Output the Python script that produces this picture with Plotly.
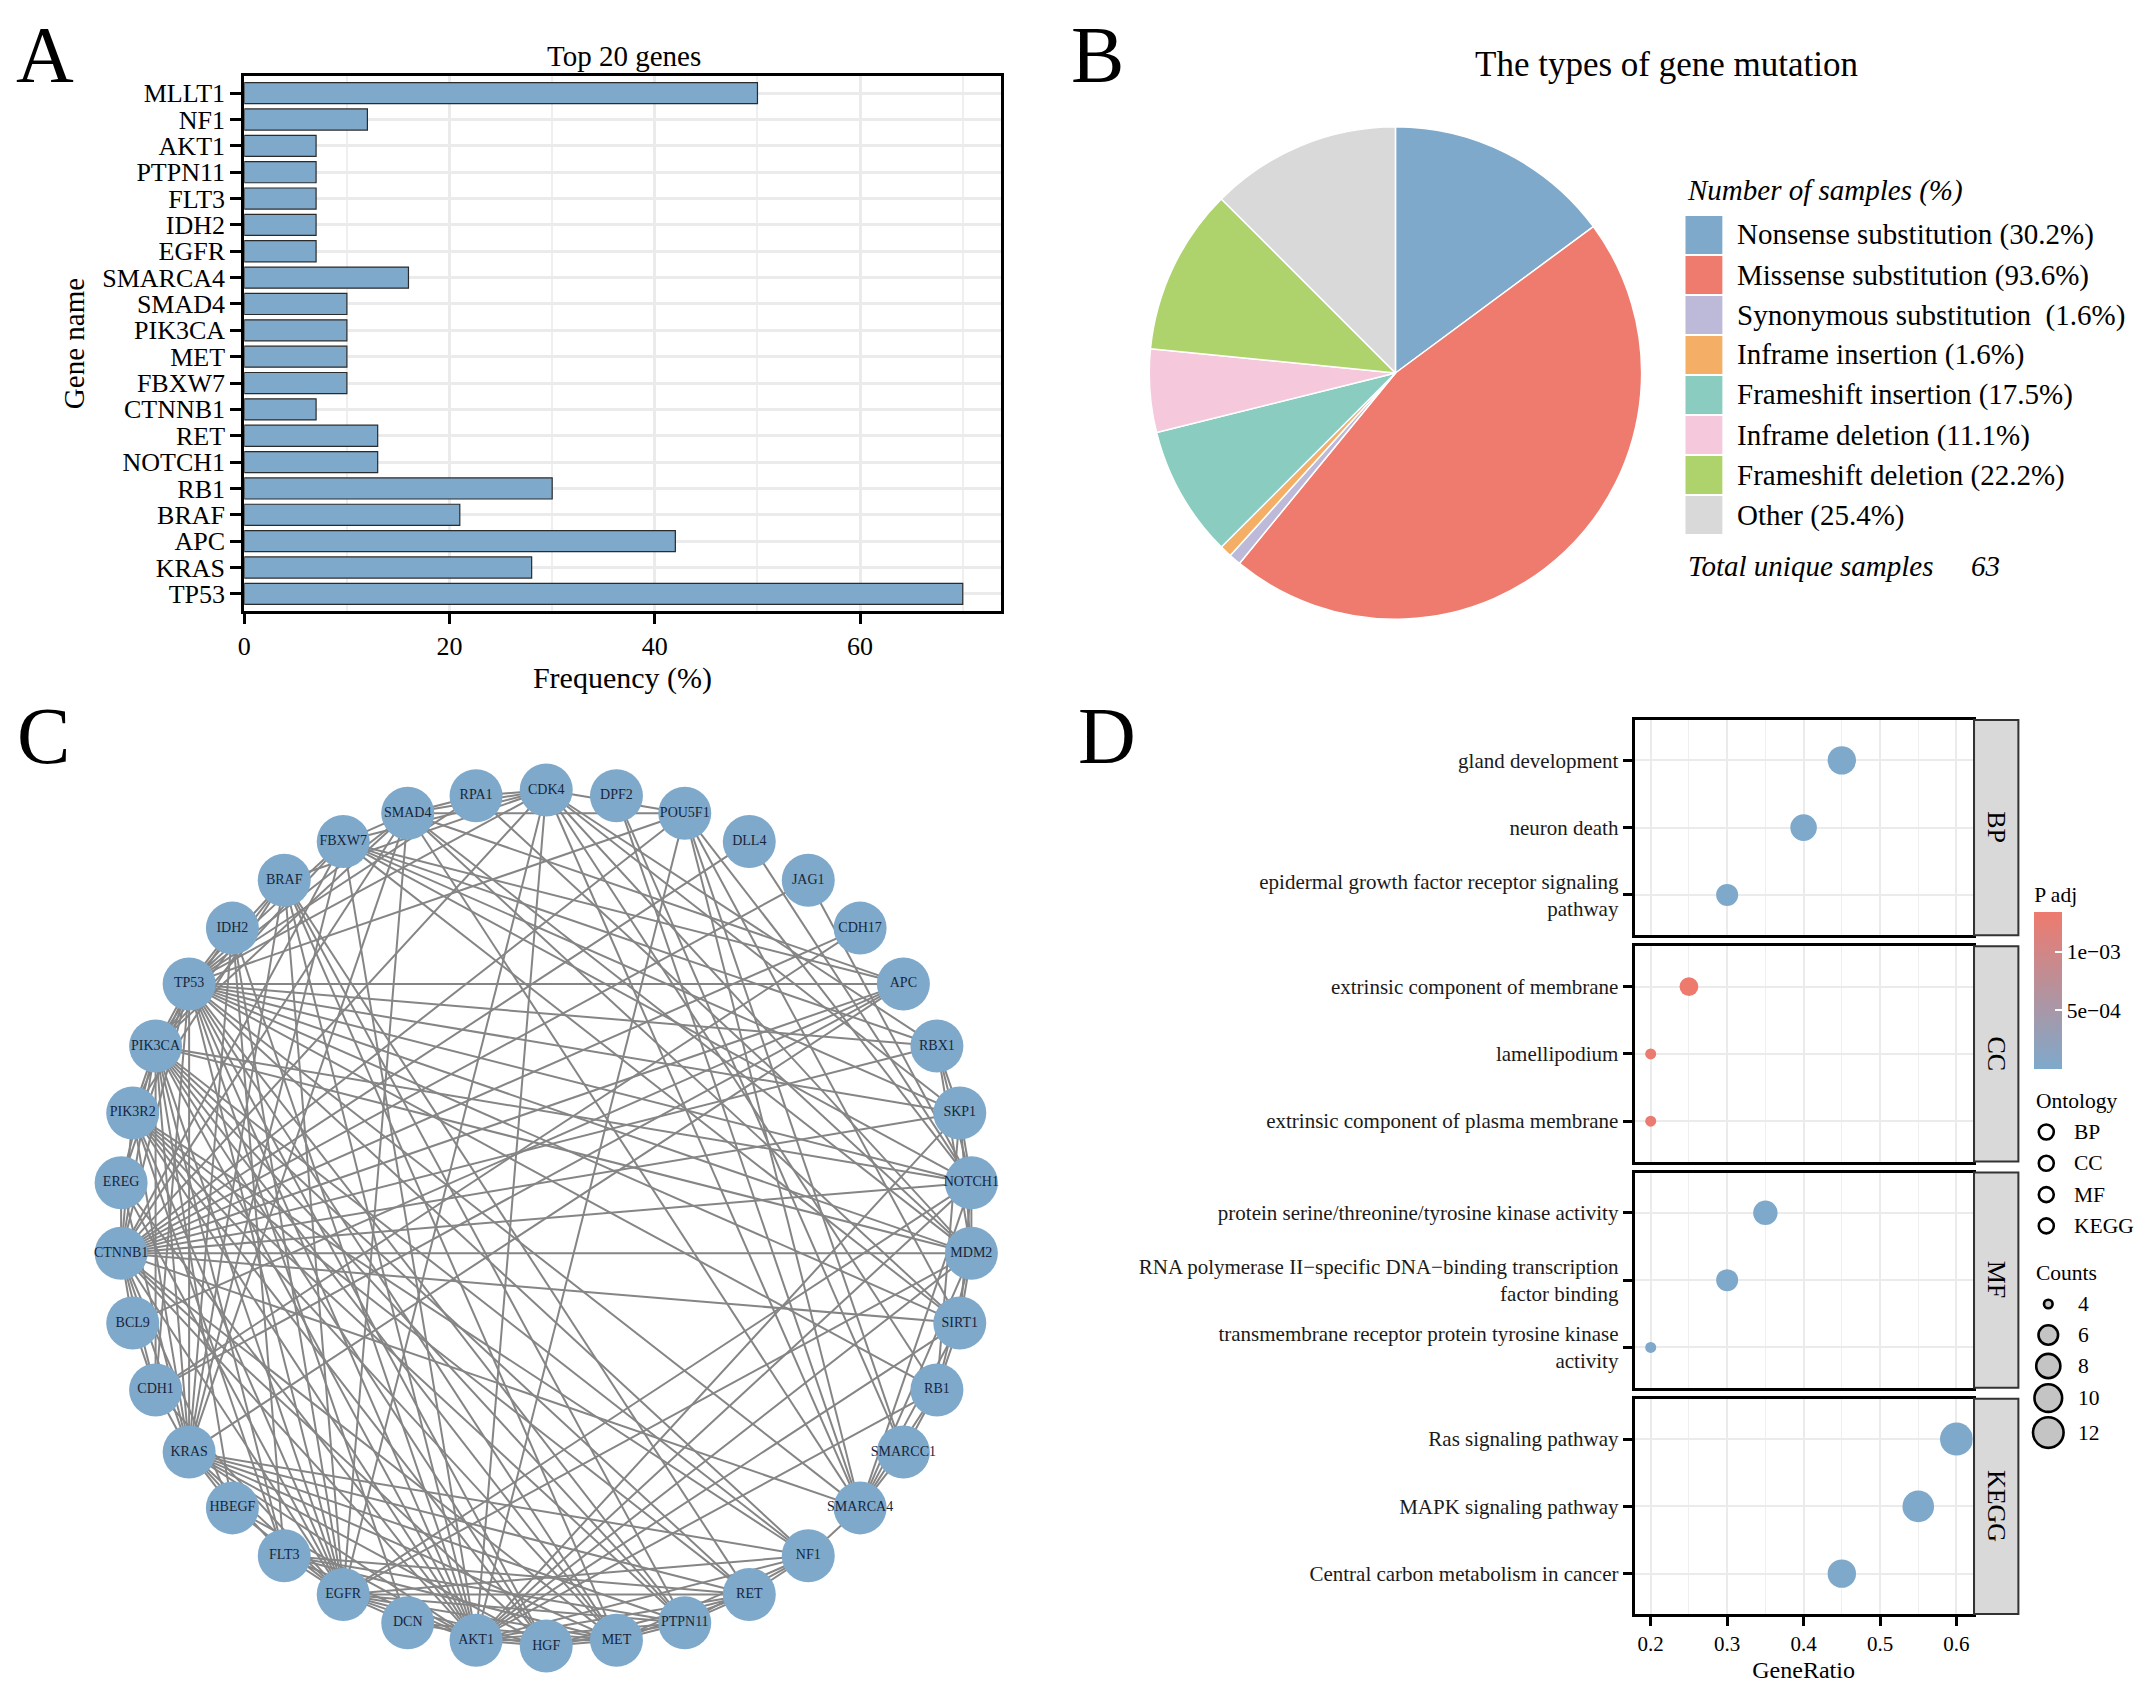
import math
import plotly.graph_objects as go

# The page body has an 8 px margin, so the figure is sized to fit exactly inside the window
PAGE_W, PAGE_H, OFF = 2144, 1696, 8
W, H = PAGE_W - 2 * OFF, PAGE_H - 2 * OFF
FONT = "Liberation Serif"
BLUE = "#7EA9CB"
RED = "#EE7A6E"
GRID = "#EBEBEB"
MINOR = "#EFEFEF"


def fx(x):
    return (x - OFF) / W


def fy(y):
    return 1 - (y - OFF) / H


# ---------------- Panel A data ----------------
genes = ["MLLT1", "NF1", "AKT1", "PTPN11", "FLT3", "IDH2", "EGFR", "SMARCA4", "SMAD4", "PIK3CA",
         "MET", "FBXW7", "CTNNB1", "RET", "NOTCH1", "RB1", "BRAF", "APC", "KRAS", "TP53"]
freq = [50, 12, 7, 7, 7, 7, 7, 16, 10, 10, 10, 10, 7, 13, 13, 30, 21, 42, 28, 70]

# ---------------- Panel B data ----------------
mutation_types = ["Nonsense substitution", "Missense substitution", "Synonymous substitution\u00a0",
                  "Inframe insertion", "Frameshift insertion", "Inframe deletion",
                  "Frameshift deletion", "Other"]
mutation_pct = [30.2, 93.6, 1.6, 1.6, 17.5, 11.1, 22.2, 25.4]
mutation_colors = ["#7EA9CB", "#EE7B6D", "#BDB9D8", "#F4AE66", "#8ACCBF", "#F5C8DC", "#AFD36C", "#D9D9D9"]
total_unique_samples = 63

# ---------------- Panel C data ----------------
network_nodes = ["CDK4", "DPF2", "POU5F1", "DLL4", "JAG1", "CDH17", "APC", "RBX1", "SKP1", "NOTCH1",
                 "MDM2", "SIRT1", "RB1", "SMARCC1", "SMARCA4", "NF1", "RET", "PTPN11", "MET", "HGF",
                 "AKT1", "DCN", "EGFR", "FLT3", "HBEGF", "KRAS", "CDH1", "BCL9", "CTNNB1", "EREG",
                 "PIK3R2", "PIK3CA", "TP53", "IDH2", "BRAF", "FBXW7", "SMAD4", "RPA1"]
network_adjacency = {
    "TP53": "MDM2 CDK4 RPA1 SIRT1 RB1 CTNNB1 AKT1 KRAS EGFR PIK3CA BRAF APC SMAD4 FBXW7 NOTCH1 SMARCA4 POU5F1 HGF MET CDH1 IDH2 NF1 PTPN11 RBX1 SKP1 EREG PIK3R2 DCN",
    "CTNNB1": "APC CDH1 BCL9 SMAD4 FBXW7 AKT1 EGFR KRAS PIK3CA MDM2 SIRT1 NOTCH1 SKP1 RBX1 CDK4 POU5F1 SMARCA4 MET HGF CDH17 DLL4 JAG1 EREG PIK3R2 HBEGF",
    "PIK3CA": "AKT1 KRAS EGFR PIK3R2 BRAF MET HGF PTPN11 FLT3 RET NF1 EREG HBEGF CDH1 SMAD4 FBXW7 IDH2 NOTCH1 MDM2",
    "KRAS": "BRAF EGFR NF1 PTPN11 AKT1 PIK3R2 MET HGF FLT3 RET HBEGF EREG CDH1 APC SMAD4 FBXW7 IDH2",
    "EGFR": "EREG HBEGF MET HGF PTPN11 AKT1 BRAF PIK3R2 NF1 RET FLT3 CDH1 DCN SMAD4 CDK4 NOTCH1 MDM2",
    "AKT1": "MDM2 SIRT1 PIK3R2 HGF MET PTPN11 BRAF FBXW7 NOTCH1 CDK4 EREG HBEGF RET FLT3 NF1 RB1 SKP1 POU5F1",
    "MET": "HGF PTPN11 PIK3R2 BRAF RET NF1 FLT3 DCN",
    "HGF": "PTPN11 PIK3R2 DCN RET",
    "PTPN11": "PIK3R2 RET FLT3 NF1 BRAF",
    "RET": "PIK3R2 BRAF NF1",
    "NF1": "SMARCA4",
    "SMARCA4": "SMARCC1 DPF2 RB1 CDK4 NOTCH1 SMAD4 POU5F1 SIRT1 MDM2",
    "SMARCC1": "DPF2 RB1 POU5F1",
    "RB1": "CDK4 MDM2 SIRT1 SKP1",
    "SIRT1": "MDM2 NOTCH1 SMAD4 FBXW7 POU5F1",
    "MDM2": "CDK4 RPA1 SKP1 RBX1 NOTCH1 SMAD4",
    "NOTCH1": "DLL4 JAG1 FBXW7 SKP1 RBX1 POU5F1",
    "SKP1": "RBX1 FBXW7 CDK4",
    "RBX1": "FBXW7 CDK4",
    "APC": "SMAD4 BCL9 FBXW7 CDH1",
    "CDH17": "CDH1",
    "POU5F1": "SMAD4 CDK4",
    "CDK4": "RPA1 SMAD4 FBXW7 BRAF",
    "RPA1": "SMAD4",
    "SMAD4": "FBXW7",
    "IDH2": "EGFR AKT1 FLT3",
    "BCL9": "CDH1",
    "PIK3R2": "FLT3 NF1 BRAF",
    "FLT3": "RET",
}

# ---------------- Panel D data ----------------
go_terms = ["gland development", "neuron death", "epidermal growth factor receptor signaling\npathway",
            "extrinsic component of membrane", "lamellipodium", "extrinsic component of plasma membrane",
            "protein serine/threonine/tyrosine kinase activity",
            "RNA polymerase II\u2212specific DNA\u2212binding transcription\nfactor binding",
            "transmembrane receptor protein tyrosine kinase\nactivity",
            "Ras signaling pathway", "MAPK signaling pathway", "Central carbon metabolism in cancer"]
go_ontology = ["BP", "BP", "BP", "CC", "CC", "CC", "MF", "MF", "MF", "KEGG", "KEGG", "KEGG"]
go_gene_ratio = [0.45, 0.40, 0.30, 0.25, 0.20, 0.20, 0.35, 0.30, 0.20, 0.60, 0.55, 0.45]
go_counts = [9, 8, 6, 5, 4, 4, 7, 6, 4, 12, 11, 9]
go_padj = [3.1e-7, 5.2e-7, 8.0e-6, 1.34e-3, 1.31e-3, 1.31e-3, 2.1e-6, 6.4e-6, 1.8e-5, 3.5e-9, 1.1e-8, 4.2e-8]
ontology_levels = ["BP", "CC", "MF", "KEGG"]
count_breaks = [4, 6, 8, 10, 12]
padj_breaks = [5e-4, 1e-3]
padj_labels = ["5e\u221204", "1e\u221203"]

fig = go.Figure()
shapes = []
ann = []


def text(x, y, s, size, xanchor="center", yanchor="middle", angle=0, color="black"):
    ann.append(dict(x=fx(x), y=fy(y), xref="paper", yref="paper", text=s, showarrow=False,
                    font=dict(family=FONT, size=size, color=color), xanchor=xanchor,
                    yanchor=yanchor, textangle=angle))


# panel letters
text(38, 9, "A", 80, yanchor="top")
text(1094, 9, "B", 80, yanchor="top")
text(37, 736, "C", 80)
text(1104, 736, "D", 80)

# ---------------- Panel A ----------------
fig.add_trace(go.Bar(x=freq, y=genes, orientation="h", width=0.8,
                     marker=dict(color=BLUE, line=dict(color="#2b2b2b", width=1.2)),
                     xaxis="x", yaxis="y", showlegend=False, hoverinfo="x+y"))
text(619, 56, "Top 20 genes", 29)

# ---------------- Panel B ----------------
fig.add_trace(go.Pie(labels=mutation_types, values=mutation_pct, sort=False, direction="clockwise",
                     rotation=0, textinfo="none", showlegend=False,
                     marker=dict(colors=mutation_colors, line=dict(color="white", width=1.5)),
                     domain=dict(x=[fx(1146), fx(1640)], y=[fy(620), fy(126)])))
text(1665, 65, "The types of gene mutation", 35)
text(1684, 190, "<i>Number of samples (%)</i>", 29, xanchor="left")
for i, (name, pct, col) in enumerate(zip(mutation_types, mutation_pct, mutation_colors)):
    y0 = 216 + 40 * i
    shapes.append(dict(type="rect", xref="paper", yref="paper", x0=fx(1684), x1=fx(1721),
                       y0=fy(y0 + 38), y1=fy(y0), fillcolor=col, line=dict(width=0), layer="above"))
    text(1734, y0 + 19, f"{name} ({pct}%)", 29, xanchor="left")
text(1685, 566, "<i>Total unique samples</i>", 29, xanchor="left")
text(1968, 566, f"<i>{total_unique_samples}</i>", 29, xanchor="left")

# ---------------- Panel C ----------------
n = len(network_nodes)
R = 428
pos = {}
for i, name in enumerate(network_nodes):
    a = math.pi / 2 - 2 * math.pi * i / n
    pos[name] = (R * math.cos(a), R * math.sin(a))
seen = set()
ex, ey = [], []
for a, targets in network_adjacency.items():
    for b in targets.split():
        key = frozenset((a, b))
        if key in seen or a == b:
            continue
        seen.add(key)
        ex += [pos[a][0], pos[b][0], None]
        ey += [pos[a][1], pos[b][1], None]
fig.add_trace(go.Scatter(x=ex, y=ey, mode="lines", line=dict(color="#858585", width=2),
                         xaxis="x2", yaxis="y2", showlegend=False, hoverinfo="skip"))
fig.add_trace(go.Scatter(x=[pos[k][0] for k in network_nodes], y=[pos[k][1] for k in network_nodes],
                         mode="markers+text", text=network_nodes, textposition="middle center",
                         textfont=dict(family=FONT, size=14, color="#17253A"),
                         marker=dict(size=53, color=BLUE, line=dict(width=0)),
                         xaxis="x2", yaxis="y2", showlegend=False, hoverinfo="text"))

# ---------------- Panel D ----------------
cmin_c, cmax_c = min(go_counts), max(go_counts)


def dot_size(c):
    return 11 + math.sqrt((c - cmin_c) / (cmax_c - cmin_c)) * 22


facet_top0, facet_h, facet_gap = 720, 215.25, 11
layout_axes = {}
for k, ont in enumerate(ontology_levels):
    idx = [i for i, o in enumerate(go_ontology) if o == ont]
    cats = [go_terms[i].replace("\n", "<br>") for i in idx]
    ax = 3 + k
    fig.add_trace(go.Scatter(
        x=[go_gene_ratio[i] for i in idx], y=cats, mode="markers",
        marker=dict(size=[dot_size(go_counts[i]) for i in idx], color=[go_padj[i] for i in idx],
                    coloraxis="coloraxis", line=dict(width=0), opacity=1),
        xaxis=f"x{ax}", yaxis=f"y{ax}", showlegend=False))
    top = facet_top0 + k * (facet_h + facet_gap)
    bot = top + facet_h
    last = k == len(ontology_levels) - 1
    layout_axes[f"xaxis{ax}"] = dict(
        domain=[fx(1633), fx(1972)], anchor=f"y{ax}", range=[0.179, 0.621], tick0=0, dtick=0.1,
        tickformat=".1f", showgrid=True, gridcolor=GRID, gridwidth=2,
        minor=dict(dtick=0.05, tick0=0, showgrid=True, gridcolor=MINOR, gridwidth=1.3),
        showline=True, mirror=True, linecolor="black", linewidth=3, zeroline=False,
        showticklabels=last, ticks="outside" if last else "", ticklen=9, tickwidth=2.5,
        tickcolor="black", tickfont=dict(size=21),
        title=dict(text="GeneRatio" if last else "", font=dict(size=24), standoff=6))
    layout_axes[f"yaxis{ax}"] = dict(
        domain=[fy(bot), fy(top)], anchor=f"x{ax}", type="category", categoryorder="array",
        categoryarray=cats, range=[2.6, -0.6], ticks="outside", ticklen=9, tickwidth=2.5,
        tickcolor="black", tickfont=dict(size=21, color="#1a1a1a"), showgrid=True, gridcolor=GRID,
        gridwidth=2, showline=True, mirror=True, linecolor="black", linewidth=3, zeroline=False)
    shapes.append(dict(type="rect", xref="paper", yref="paper", x0=fx(1973.5), x1=fx(2018),
                       y0=fy(bot), y1=fy(top), fillcolor="#D9D9D9",
                       line=dict(color="#333333", width=2)))
    text(1996, (top + bot) / 2, ont, 26, angle=90)

# D legends: Ontology
text(2034, 1101, "Ontology", 21.5, xanchor="left")
for i, ont in enumerate(ontology_levels):
    yc = 1132 + 31.3 * i
    shapes.append(dict(type="circle", xref="paper", yref="paper", xsizemode="pixel", ysizemode="pixel",
                       xanchor=fx(2046), yanchor=fy(yc), x0=-7.5, x1=7.5, y0=-7.5, y1=7.5,
                       line=dict(color="black", width=2.6), fillcolor="rgba(0,0,0,0)"))
    text(2072, yc, ont, 21.5, xanchor="left")

# D legends: Counts
text(2034, 1273, "Counts", 21.5, xanchor="left")
ycur = 1288.5
for b in count_breaks:
    d = dot_size(b)
    h = max(d + 3, 31)
    yc = ycur + h / 2
    ycur += h
    r = d / 2 - 1.2
    shapes.append(dict(type="circle", xref="paper", yref="paper", xsizemode="pixel", ysizemode="pixel",
                       xanchor=fx(2048), yanchor=fy(yc), x0=-r, x1=r, y0=-r, y1=r,
                       line=dict(color="black", width=2.6), fillcolor="#C4C4C4"))
    text(2076, yc, str(b), 21.5, xanchor="left")

fig.update_layout(
    width=W, height=H, autosize=False, margin=dict(l=0, r=0, t=0, b=0),
    paper_bgcolor="white", plot_bgcolor="white", showlegend=False,
    font=dict(family=FONT, color="black"),
    xaxis=dict(domain=[fx(238), fx(997)], anchor="y", range=[0, 73.7], tick0=0, dtick=20,
               ticks="outside", ticklen=10, tickwidth=2.5, tickcolor="black", tickfont=dict(size=26),
               showline=True, mirror=True, linecolor="black", linewidth=3, showgrid=True,
               gridcolor=GRID, gridwidth=2.5,
               minor=dict(dtick=10, tick0=0, showgrid=True, gridcolor=MINOR, gridwidth=1.6),
               zeroline=False, title=dict(text="Frequency (%)", font=dict(size=30), standoff=6)),
    yaxis=dict(domain=[fy(611), fy(76)], anchor="x", type="category", categoryorder="array",
               categoryarray=genes, range=[len(genes) - 0.35, -0.65], tickmode="linear", tick0=0,
               dtick=1, ticks="outside", ticklen=11,
               tickwidth=2.5, tickcolor="black", tickfont=dict(size=26), showline=True, mirror=True,
               linecolor="black", linewidth=3, showgrid=True, gridcolor=GRID, gridwidth=2.5,
               zeroline=False, title=dict(text="Gene name", font=dict(size=29), standoff=10)),
    xaxis2=dict(domain=[fx(65), fx(1017)], anchor="y2", range=[-476, 476], visible=False),
    yaxis2=dict(domain=[fy(1688), fy(742)], anchor="x2", range=[-470, 476], visible=False),
    coloraxis=dict(
        colorscale=[[0, BLUE], [1, RED]], cmin=min(go_padj), cmax=max(go_padj),
        colorbar=dict(x=fx(2034), xanchor="left", y=fy(883), yanchor="top", thickness=28,
                      thicknessmode="pixels", len=186, lenmode="pixels", outlinewidth=0,
                      tickvals=padj_breaks, ticktext=padj_labels, ticks="inside", ticklen=7,
                      tickcolor="white", tickwidth=1.5, tickfont=dict(family=FONT, size=21.5),
                      title=dict(text="P adj", side="top", font=dict(family=FONT, size=21.5)),
                      xpad=0, ypad=0)),
    shapes=shapes, annotations=ann,
)
fig.update_layout(**layout_axes)

fig.write_html("out.html")
